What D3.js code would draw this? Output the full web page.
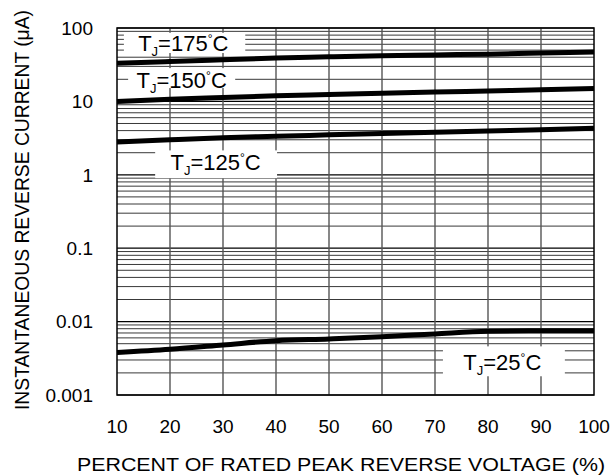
<!DOCTYPE html>
<html>
<head>
<meta charset="utf-8">
<script src="https://cdn.jsdelivr.net/npm/d3@7"></script>
<style>
  body { margin: 0; background: #fff; }
  text { font-family: "Liberation Sans", Arial, sans-serif; fill: #000; }
</style>
</head>
<body>
<svg id="chart" width="611" height="476"></svg>
<script>
// percent of rated peak reverse voltage
const voltagePct = [10, 20, 30, 40, 50, 60, 70, 80, 90, 100];
// reverse current (uA) per junction temperature
const i175 = [33, 35, 37, 39, 40.5, 42, 43, 44, 45.5, 47];
const i150 = [10, 10.7, 11.3, 11.9, 12.4, 12.9, 13.4, 13.9, 14.4, 15];
const i125 = [2.8, 3.0, 3.2, 3.35, 3.5, 3.65, 3.8, 3.95, 4.1, 4.3];
const i25 = [0.0038, 0.0042, 0.0048, 0.0055, 0.0058, 0.0062, 0.0068, 0.0074, 0.0075, 0.0075];
const xTicks = [10, 20, 30, 40, 50, 60, 70, 80, 90, 100];
const yTicks = [0.001, 0.01, 0.1, 1, 10, 100];
const yTickLabels = ["0.001", "0.01", "0.1", "1", "10", "100"];
// label anchor (pct, uA) and white box [pct0, pct1, uA top, uA bottom]
const curveLabels = [
  { temp: "175", v: 22.5, i: 62, box: [11.3, 34.2, 86, 45.6] },
  { temp: "150", v: 22.2, i: 19.5, box: [12.1, 32.3, 28.4, 15.2] },
  { temp: "125", v: 28.6, i: 1.49, box: [17.2, 40.2, 2.15, 0.9] },
  { temp: "25", v: 82.7, i: 0.00282, box: [71.5, 94.5, 0.0046, 0.0018] }
];

const svg = d3.select('#chart');
const margin = { top: 28, right: 17, bottom: 81, left: 117 };
const width = 611 - margin.left - margin.right;
const height = 476 - margin.top - margin.bottom;

const x = d3.scaleLinear().domain([10, 100]).range([0, width]);
const y = d3.scaleLog().domain([0.001, 100]).range([height, 0]);

const g = svg.append('g').attr('transform', `translate(${margin.left},${margin.top})`);

// horizontal log grid
const minor = [];
for (let e = -3; e < 2; e++) {
  for (let k = 2; k <= 9; k++) minor.push(k * Math.pow(10, e));
}
g.selectAll('.hminor').data(minor).enter().append('line')
  .attr('x1', 0).attr('x2', width)
  .attr('y1', d => y(d)).attr('y2', d => y(d))
  .style('stroke', '#222').style('stroke-width', 0.9);
g.selectAll('.hmajor').data(yTicks).enter().append('line')
  .attr('x1', 0).attr('x2', width)
  .attr('y1', d => y(d)).attr('y2', d => y(d))
  .style('stroke', '#000').style('stroke-width', 1.2);

// vertical grid
g.selectAll('.vgrid').data(xTicks.slice(1, -1)).enter().append('line')
  .attr('y1', 0).attr('y2', height)
  .attr('x1', d => x(d)).attr('x2', d => x(d))
  .style('stroke', '#555').style('stroke-width', 1.4);

// white boxes behind curve labels
g.selectAll('.lblbox').data(curveLabels).enter().append('rect')
  .attr('x', d => x(d.box[0]))
  .attr('y', d => y(d.box[2]))
  .attr('width', d => x(d.box[1]) - x(d.box[0]))
  .attr('height', d => y(d.box[3]) - y(d.box[2]))
  .style('fill', '#fff');

// frame
g.append('rect').attr('width', width).attr('height', height)
  .style('fill', 'none').style('stroke', '#000').style('stroke-width', 1.5);

// curves
const line = d3.line()
  .x((d, i) => x(voltagePct[i]))
  .y(d => y(d))
  .curve(d3.curveMonotoneX);
[i175, i150, i125, i25].forEach(series => {
  g.append('path').datum(series).attr('d', line)
    .style('fill', 'none').style('stroke', '#000').style('stroke-width', 5);
});

// curve labels
curveLabels.forEach(d => {
  const t = g.append('text')
    .attr('x', x(d.v)).attr('y', y(d.i))
    .attr('dy', '0.36em')
    .attr('text-anchor', 'middle')
    .style('font-size', '22px');
  t.append('tspan').text('T');
  t.append('tspan').attr('dy', 5).style('font-size', '13px').text('J');
  t.append('tspan').attr('dy', -5).text('=' + d.temp);
  t.append('tspan').attr('dy', -8).style('font-size', '12px').text('°');
  t.append('tspan').attr('dy', 8).text('C');
});

// tick labels
g.selectAll('.xt').data(xTicks).enter().append('text')
  .attr('x', d => x(d)).attr('y', height + 38)
  .attr('text-anchor', 'middle')
  .style('font-size', '19px').text(d => d);
g.selectAll('.yt').data(yTicks).enter().append('text')
  .attr('x', -24).attr('y', d => y(d))
  .attr('dy', '0.36em').attr('text-anchor', 'end')
  .style('font-size', '19px').text((d, i) => yTickLabels[i]);

// axis titles
svg.append('text')
  .attr('x', 77).attr('y', 471)
  .attr('textLength', 528).attr('lengthAdjust', 'spacingAndGlyphs')
  .style('font-size', '19px')
  .text('PERCENT OF RATED PEAK REVERSE VOLTAGE (%)');
svg.append('text')
  .attr('transform', 'translate(29,410) rotate(-90)')
  .attr('textLength', 400).attr('lengthAdjust', 'spacingAndGlyphs')
  .style('font-size', '19.5px')
  .text('INSTANTANEOUS REVERSE CURRENT (μA)');
</script>
</body>
</html>
